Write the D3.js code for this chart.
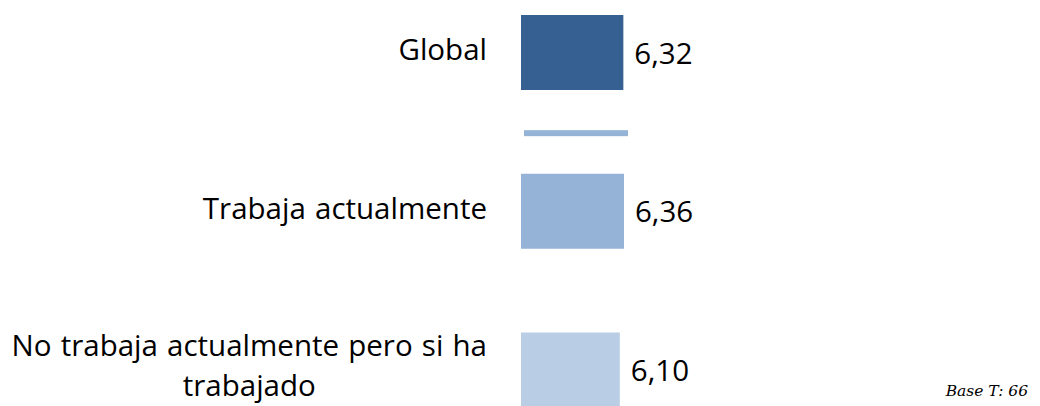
<!DOCTYPE html>
<html>
<head>
<meta charset="utf-8">
<script src="https://cdn.jsdelivr.net/npm/d3@7"></script>
<style>
  html, body { margin: 0; padding: 0; background: #ffffff; }
  svg { display: block; }
</style>
</head>
<body>
<svg id="chart" width="1040" height="406"></svg>
<script>
// Satisfaction score by employment status
const categories = ["Global", "Trabaja actualmente", "No trabaja actualmente pero si ha trabajado"];
const labelLines = [["Global"], ["Trabaja actualmente"], ["No trabaja actualmente pero si ha", "trabajado"]];
const values = [6.32, 6.36, 6.10];
const colors = ["#376092", "#95b3d7", "#b9cde5"];
const baseNote = "Base T: 66";

const svg = d3.select("#chart");
const fontFamily = "'Open Sans', 'Noto Sans', sans-serif";
const fontSize = 29.5;

const barX0 = 521;
const x = d3.scaleLinear().domain([0, 6.36]).range([0, 103]);
const y = d3.scalePoint().domain(categories).range([52.5, 370]);
const barH = 75;

// Bars
svg.selectAll("rect.bar")
  .data(categories)
  .join("rect")
  .attr("class", "bar")
  .attr("x", barX0)
  .attr("y", d => y(d) - barH / 2)
  .attr("width", (d, i) => x(values[i]))
  .attr("height", barH)
  .attr("fill", (d, i) => colors[i]);

// Separator rule between the overall score and the breakdown
const sepY = (y(categories[0]) + y(categories[1])) / 2 + 1.3;
svg.append("rect")
  .attr("x", barX0 + 3)
  .attr("y", sepY - 3)
  .attr("width", x(values[1]) + 1)
  .attr("height", 6)
  .attr("fill", "#95b3d7");

// Value labels
svg.selectAll("text.value")
  .data(categories)
  .join("text")
  .attr("class", "value")
  .attr("x", (d, i) => barX0 + x(values[i]) + 11)
  .attr("y", d => y(d) + 11)
  .attr("font-family", fontFamily)
  .attr("font-size", fontSize)
  .attr("fill", "#000")
  .text((d, i) => d3.format(".2f")(values[i]).replace(".", ","));

// Category labels: block right-aligned, lines centred within the block
const labelRight = 487;
const lineH = 40.5;

svg.selectAll("text.cat")
  .data(categories)
  .join("text")
  .attr("class", "cat")
  .attr("font-family", fontFamily)
  .attr("font-size", fontSize)
  .attr("word-spacing", 1.5)
  .attr("fill", "#000")
  .attr("text-anchor", "middle")
  .each(function(d, i) {
    const t = d3.select(this);
    const lines = labelLines[i];
    const dyCenter = lines.length > 1 ? 6 : 7.5;
    const spans = t.selectAll("tspan")
      .data(lines)
      .join("tspan")
      .attr("y", (l, j) => y(d) + dyCenter + (j - (lines.length - 1) / 2) * lineH)
      .text(l => l);
    let maxW = 0;
    spans.each(function() { maxW = Math.max(maxW, this.getComputedTextLength()); });
    spans.attr("x", labelRight - maxW / 2);
  });

// Sample base note
svg.append("text")
  .attr("x", 1028)
  .attr("y", 396)
  .attr("text-anchor", "end")
  .attr("font-family", "'DejaVu Serif', serif")
  .attr("font-style", "italic")
  .attr("font-size", 15.5)
  .attr("fill", "#000")
  .text(baseNote);
</script>
</body>
</html>
